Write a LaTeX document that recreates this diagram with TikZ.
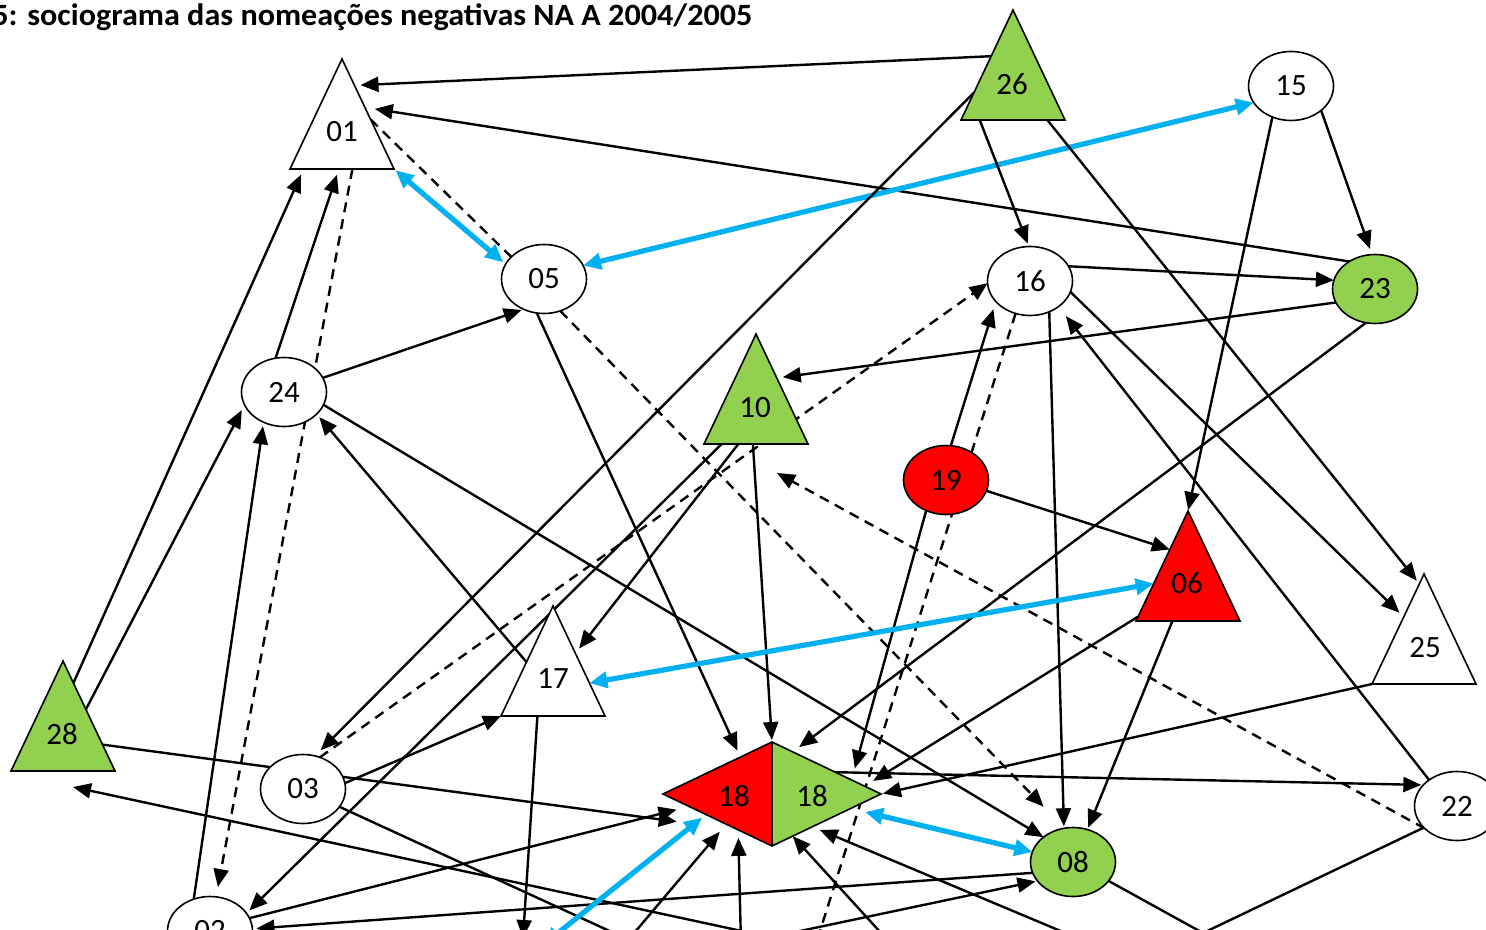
\documentclass[tikz,border=0pt]{standalone}
\usepackage{graphicx}
\usepackage{fontspec}
\setmainfont{Carlito}
\usetikzlibrary{shapes.geometric,arrows.meta,calc}
\definecolor{leafgreen}{HTML}{92D050}
\definecolor{alertred}{HTML}{FF0000}
\definecolor{cyanline}{HTML}{00B0F0}
\pgfdeclarelayer{paper}
\pgfdeclarelayer{links}
\pgfsetlayers{paper,links,main}
\begin{document}
\begin{tikzpicture}[x=0.5pt,y=-0.5pt,
  lab/.style={font=\fontsize{15.5}{17}\selectfont, inner sep=0pt},
  ell/.style={ellipse, draw, fill=white, line width=0.8pt, minimum width=42.5pt, minimum height=34.5pt, inner sep=0pt, outer sep=0pt, font=\fontsize{15.5}{17}\selectfont},
  tri/.style={isosceles triangle, isosceles triangle stretches, rotate=90, anchor=apex, draw, fill=white, line width=0.8pt, minimum width=52pt, minimum height=55pt, inner sep=0pt, outer sep=0pt},
  ln/.style={line width=1.2pt},
  arr/.style={-{Triangle[length=9pt,width=7.5pt]}},
  dsh/.style={dash pattern=on 5pt off 3.5pt},
  cyl/.style={draw=cyanline, line width=2.6pt, {Triangle[length=9pt,width=8pt]}-{Triangle[length=9pt,width=8pt]}}
]
\useasboundingbox (0,0) rectangle (1486,930);
\begin{pgfonlayer}{paper}
  \fill[white] (0,0) rectangle (1486,930);
\end{pgfonlayer}

% title
\node[anchor=base west, inner sep=0pt, font=\fontsize{15.5}{18}\selectfont\bfseries] (title) at (-8,26)
  {\resizebox{380pt}{\height}{5: sociograma das nomeações negativas NA A 2004/2005}};

% ellipse members
\node[ell] (n15) at (1291,86) {15};
\node[ell] (n05) at (544,279) {05};
\node[ell] (n16) at (1030,281) {16};
\node[ell,fill=leafgreen] (n23) at (1375,289) {23};
\node[ell] (n24) at (284,392) {24};
\node[ell,fill=alertred] (n19) at (946,480) {19};
\node[ell] (n03) at (303,789) {03};
\node[ell] (n22) at (1457,806) {22};
\node[ell,fill=leafgreen] (n08) at (1073,862) {08};
\node[ell] (n02) at (210,931) {02};

% triangle members (placed by apex)
\node[tri] (n01) at (342,59) {};
\node[tri,fill=leafgreen] (n26) at (1013,10) {};
\node[tri,fill=leafgreen] (n10) at (756,334) {};
\node[tri,fill=alertred] (n06) at (1188,511) {};
\node[tri] (n25) at (1424,574) {};
\node[tri] (n17) at (553,606) {};
\node[tri,fill=leafgreen] (n28) at (63,661) {};
\node[lab] (l01) at (342,132) {01};
\node[lab] (l26) at (1012,84) {26};
\node[lab] (l10) at (755,408) {10};
\node[lab] (l06) at (1187,583) {06};
\node[lab] (l25) at (1425,648) {25};
\node[lab] (l17) at (553,679) {17};
\node[lab] (l28) at (62,734) {28};

% member 18: split rhombus
\node[diamond, minimum width=109pt, minimum height=52pt, inner sep=0pt, outer sep=0pt] (n18) at (772,794) {};
\fill[alertred] (n18.west)--(n18.north)--(n18.south)--cycle;
\fill[leafgreen] (n18.north)--(n18.east)--(n18.south)--cycle;
\draw[line width=0.8pt, line join=miter] (n18.west)--(n18.north)--(n18.east)--(n18.south)--cycle (n18.north)--(n18.south);
\node[lab] (l18a) at (734,796) {18};
\node[lab] (l18b) at (812,796) {18};

% loose ends of links leaving the frame
\coordinate (d16) at (814,950);
\coordinate (d10) at (777,473);
\coordinate (d03) at (640,945);
\coordinate (d28) at (830,950);
\coordinate (t28) at (73,787);
\coordinate (d08) at (710,950);
\coordinate (dA) at (741,945);
\coordinate (dB) at (624,945);
\coordinate (dC) at (543,945);
\coordinate (dD) at (892,945);
\coordinate (dE) at (1094,945);
\coordinate (d17) at (523,938);
\coordinate (dV) at (1203,933);

\begin{pgfonlayer}{links}
\draw[ln,arr,shorten >=3pt] ($(n26.apex)!0.42!(n26.left corner)$) -- ($(n01.apex)!0.24!(n01.right corner)$);
\draw[ln,arr,shorten >=5pt] (n23.133) -- ($(n01.apex)!0.44!(n01.right corner)$);
\draw[cyl,shorten <=1pt,shorten >=1.5pt] (n01.right corner) -- (n05.159);
\draw[ln,dsh] ($(n01.apex)!0.55!(n01.right corner)$) -- (n05.146);
\draw[cyl] (n05.19) -- (n15.204);
\draw[ln,dsh,arr,shorten >=5pt] ($(n01.left corner)!0.6!(n01.right corner)$) -- (n02.80);
\draw[ln,arr,shorten >=3pt] (n24.104) -- ($(n01.left corner)!0.47!(n01.right corner)$);
\draw[ln,arr,shorten >=3pt] ($(n28.apex)!0.2!(n28.right corner)$) -- ($(n01.left corner)!0.13!(n01.right corner)$);
\draw[ln,arr,shorten >=3pt] ($(n28.apex)!0.44!(n28.right corner)$) -- (n24.198);
\draw[ln,arr,shorten >=2pt] (n02.117) -- (n24.236);
\draw[ln,arr,shorten >=2pt] ($(n17.apex)!0.51!(n17.left corner)$) -- (n24.326);
\draw[ln,arr,shorten >=1pt] (n24.20) -- (n05.236);
\draw[ln,arr] (n24.342) -- (n08.140);
\draw[ln,arr,shorten >=3.5pt] (n05.258) -- ($(n18.west)!0.71!(n18.north)$);
\draw[ln,dsh,arr,shorten >=15pt] (n05.297) -- (n08.104);
\draw[ln,arr,shorten >=1.5pt] ($(n26.left corner)!0.18!(n26.right corner)$) -- (n16.92);
\draw[ln,arr,shorten >=2pt] ($(n26.left corner)!0.83!(n26.right corner)$) -- ($(n25.apex)!0.09!(n25.left corner)$);
\draw[ln,arr,shorten >=4pt] ($(n26.apex)!0.75!(n26.left corner)$) -- (n03.70);
\draw[ln,arr,shorten >=2pt] ($(n10.left corner)!0.17!(n10.right corner)$) -- (n02.26);
\draw[ln,arr,shorten >=3pt] ($(n10.left corner)!0.33!(n10.right corner)$) -- ($(n17.apex)!0.43!(n17.right corner)$);
\draw[ln,arr,shorten >=1pt] ($(n10.left corner)!0.47!(n10.right corner)$) -- (n18.north);
\draw[ln,dsh,arr] (n03.62) -- (n16.183);
\draw[ln,arr,shorten >=4pt] (n19.82) -- (n16.211);
\draw[ln,dsh] (n16.246) -- (d16);
\draw[ln,arr] (n19.345) -- ($(n06.apex)!0.35!(n06.left corner)$);
\draw[ln,arr,shorten >=6pt] (n19.237) -- ($(n18.north)!0.73!(n18.east)$);
\draw[ln,arr] (n16.21) -- (n23.168);
\draw[ln,arr,shorten >=3pt] (n15.321) -- (n23.95);
\draw[ln,arr,shorten >=0.5pt] (n15.239) -- (n06.apex);
\draw[ln,arr,shorten >=3pt] (n23.199) -- ($(n10.apex)!0.40!(n10.right corner)$);
\draw[ln,arr,shorten >=4pt] (n23.255) -- ($(n18.north)!0.19!(n18.east)$);
\draw[ln,arr,shorten >=3pt] (n16.345) -- ($(n25.apex)!0.39!(n25.left corner)$);
\draw[ln,arr,shorten >=1pt] (n16.302) -- (n08.105);
\draw[ln,arr,shorten >=6pt] (n22.137) -- (n16.318);
\draw[ln,dsh,arr] (n22.215) -- (d10);
\draw[ln,arr,shorten >=1pt] ($(n18.north)!0.58!(n18.east)$) -- (n22.148);
\draw[ln,arr,shorten >=1pt] (n25.left corner) -- (n18.east);
\draw[ln,arr,shorten >=5pt] ($(n06.apex)!0.96!(n06.left corner)$) -- ($(n18.north)!0.85!(n18.east)$);
\draw[cyl] ($(n06.apex)!0.66!(n06.left corner)$) -- ($(n17.apex)!0.70!(n17.right corner)$);
\draw[ln,arr,shorten >=1pt] ($(n06.left corner)!0.35!(n06.right corner)$) -- (n08.66);
\draw[cyl,shorten <=7.5pt] ($(n18.east)!0.28!(n18.south)$) -- (n08.166);
\draw[ln,arr,shorten >=31pt] ($(n28.apex)!0.76!(n28.right corner)$) -- ($(n18.west)!0.69!(n18.south)$);
\draw[ln,arr] (n03.8) -- (n17.left corner);
\draw[ln,arr,shorten >=6.5pt] (n02.18) -- ($(n18.west)!0.24!(n18.south)$);
\draw[ln,arr,shorten >=2pt] (n08.195) -- (n02.3);
\draw[ln] (n03.334) -- (d03);
\draw[ln,arr] (d28) -- (t28);
\draw[ln,arr,shorten >=1pt] (d08) -- (n08.208);
\draw[ln,arr,shorten >=4pt] (dA) -- ($(n18.west)!0.69!(n18.south)$);
\draw[ln,arr,shorten >=5pt] (dB) -- ($(n18.west)!0.58!(n18.south)$);
\draw[cyl,shorten >=2.5pt] (dC) -- ($(n18.west)!0.395!(n18.south)$);
\draw[ln,arr] (dD) -- ($(n18.east)!0.81!(n18.south)$);
\draw[ln,arr,shorten >=4pt] (dE) -- ($(n18.east)!0.63!(n18.south)$);
\draw[ln,arr] ($(n17.left corner)!0.35!(n17.right corner)$) -- (d17);
\draw[ln] (n08.332) -- (dV);
\draw[ln] (n22.213) -- (dV);
\end{pgfonlayer}
\end{tikzpicture}
\end{document}
